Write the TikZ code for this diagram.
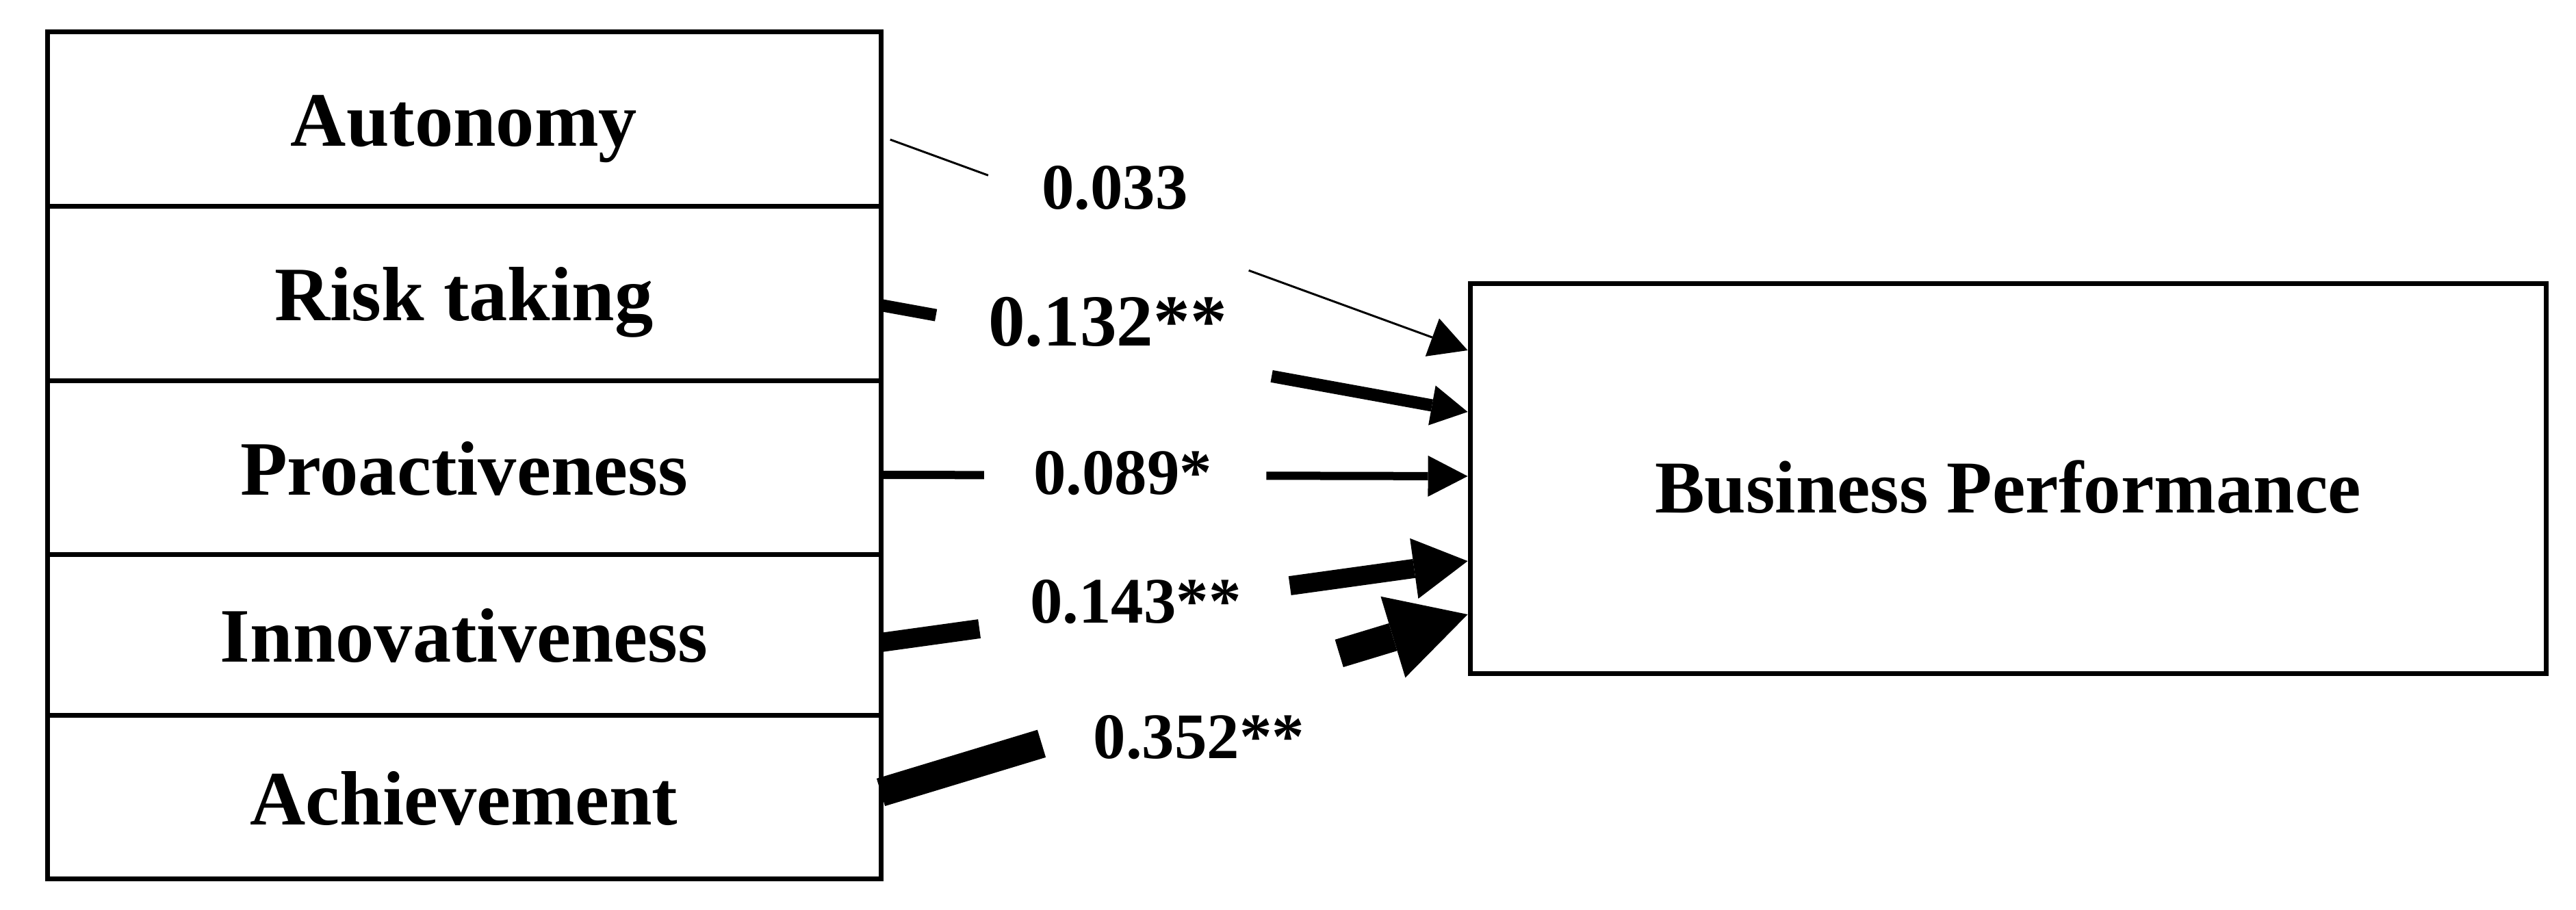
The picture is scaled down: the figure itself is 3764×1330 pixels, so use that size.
\documentclass[tikz,border=0pt]{standalone}
\usepackage{fontspec}
\setmainfont{Liberation Serif}
\usetikzlibrary{arrows.meta,positioning,calc}

\begin{document}
\begin{tikzpicture}[
    x=0.1mm, y=-0.1mm,
    factor/.style={draw, line width=0.7mm, outer sep=0pt, minimum width=121.8mm, font=\fontsize{32}{38}\selectfont\bfseries, text height=7.9mm, text depth=0pt},
    outcome/.style={draw, line width=0.7mm, minimum width=157.2mm, minimum height=57mm, font=\fontsize{31}{37}\selectfont\bfseries, text height=10mm, text depth=0pt},
    coef/.style={inner sep=0pt, font=\fontsize{27}{32}\selectfont\bfseries},
    beta/.style={line width=#1},
    arrowhd/.style 2 args={-{Triangle[length=#1, width=#2, line width=0pt]}}
]
\useasboundingbox (0,0) rectangle (3764,1330);

% dimensions of EO
\node[factor, minimum height=25.5mm] (aut) at (678,174.5) {Autonomy};
\node[factor, minimum height=25.5mm, below=0pt of aut] (risk) {Risk taking};
\node[factor, minimum height=25.4mm, below=0pt of risk] (pro) {Proactiveness};
\node[factor, minimum height=23.5mm, below=0pt of pro] (inno) {Innovativeness};
\node[factor, minimum height=23.9mm, below=0pt of inno] (ach) {Achievement};

\node[outcome] (bp) at (2934,699) {Business Performance};

\coordinate (a1) at ([yshift=-2.45mm]aut.east);
\coordinate (b1) at ([yshift=18.7mm]bp.west);
\coordinate (a2) at ([yshift=-1.65mm]risk.east);
\coordinate (b2) at ([yshift=9.7mm]bp.west);
\coordinate (a3) at ([yshift=-1mm]pro.east);
\coordinate (b3) at ([yshift=0.3mm]bp.west);
\coordinate (a4) at ([yshift=-1.05mm]inno.east);
\coordinate (b4) at ([yshift=-12.1mm]bp.west);
\coordinate (a5) at ([yshift=0.75mm]ach.east);
\coordinate (b5) at ([yshift=-19.9mm]bp.west);

% paths, broken round the coefficients
\draw[beta=0.3mm] ($(a1)!0.016!(b1)$) -- ($(a1)!0.183!(b1)$);
\draw[beta=0.3mm, arrowhd={5.5mm}{5.9mm}] ($(a1)!0.627!(b1)$) -- (b1);
\draw[beta=1.8mm] (a2) -- ($(a2)!0.094!(b2)$);
\draw[beta=1.8mm, arrowhd={5.3mm}{5.9mm}] ($(a2)!0.666!(b2)$) -- (b2);
\draw[beta=1.2mm] (a3) -- ($(a3)!0.176!(b3)$);
\draw[beta=1.2mm, arrowhd={5.8mm}{6mm}] ($(a3)!0.657!(b3)$) -- (b3);
\draw[beta=2.8mm] (a4) -- ($(a4)!0.168!(b4)$);
\draw[beta=2.8mm, arrowhd={7.9mm}{8.9mm}] ($(a4)!0.697!(b4)$) -- (b4);
\draw[beta=4.2mm] (a5) -- ($(a5)!0.274!(b5)$);
\draw[beta=4.2mm, arrowhd={11.4mm}{12.4mm}] ($(a5)!0.781!(b5)$) -- (b5);

\node[coef] (c1) at (1629,274.5) {0.033};
\node[coef, font=\fontsize{30.5}{36}\selectfont\bfseries] (c2) at (1618.5,470.5) {0.132**};
\node[coef] (c3) at (1640.5,691.5) {0.089*};
\node[coef] (c4) at (1659.5,879.5) {0.143**};
\node[coef] (c5) at (1752,1077.5) {0.352**};
\end{tikzpicture}
\end{document}
